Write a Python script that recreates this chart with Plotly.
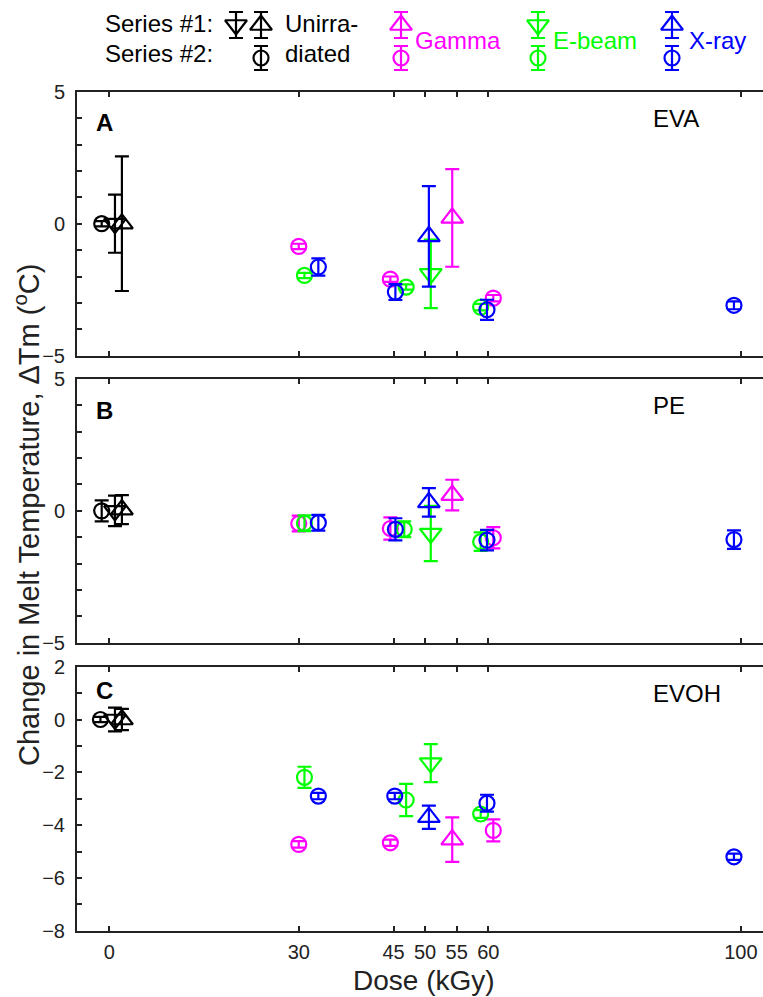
import plotly.graph_objects as go

# ---- data: change in melt temperature (deg C) vs dose (kGy) ----
# doses are slightly staggered around the nominal dose so markers do not overlap
# Series #2 (circles): (doses, values, errors)
eva_s2 = {
    "Unirradiated": ([-1.2], [0.0], [0.10]),
    "Gamma": ([30.0, 44.5, 60.8], [-0.86, -2.10, -2.82], [0.10, 0.10, 0.12]),
    "E-beam": ([30.9, 47.0, 58.8], [-1.96, -2.40, -3.16], [0.10, 0.10, 0.12]),
    "X-ray": ([33.1, 45.3, 59.8, 98.9], [-1.64, -2.59, -3.26, -3.09], [0.33, 0.30, 0.38, 0.15]),
}
pe_s2 = {
    "Unirradiated": ([-1.2], [0.0], [0.40]),
    "Gamma": ([30.0, 44.5, 60.8], [-0.48, -0.67, -1.02], [0.30, 0.42, 0.40]),
    "E-beam": ([30.9, 46.7, 58.8], [-0.47, -0.70, -1.17], [0.30, 0.30, 0.35]),
    "X-ray": ([33.1, 45.3, 59.8, 98.9], [-0.45, -0.70, -1.11, -1.09], [0.30, 0.42, 0.39, 0.35]),
}
evoh_s2 = {
    "Unirradiated": ([-1.4], [0.0], [0.10]),
    "Gamma": ([30.0, 44.5, 60.8], [-4.73, -4.67, -4.20], [0.12, 0.12, 0.42]),
    "E-beam": ([30.9, 47.0, 58.8], [-2.19, -3.05, -3.58], [0.40, 0.61, 0.15]),
    "X-ray": ([33.1, 45.2, 59.8, 98.9], [-2.90, -2.90, -3.17, -5.20], [0.12, 0.12, 0.32, 0.12]),
}
# Series #1 (triangles): (dose, value, error, symbol)
eva_s1 = {
    "Unirradiated": [(0.9, 0.0, 1.10, "triangle-down-open"), (2.0, 0.0, 2.55, "triangle-up-open")],
    "Gamma": [(54.3, 0.22, 1.85, "triangle-up-open")],
    "E-beam": [(50.9, -1.90, 1.30, "triangle-down-open")],
    "X-ray": [(50.6, -0.48, 1.90, "triangle-up-open")],
}
pe_s1 = {
    "Unirradiated": [(0.9, 0.0, 0.58, "triangle-down-open"), (2.0, 0.05, 0.55, "triangle-up-open")],
    "Gamma": [(54.3, 0.60, 0.58, "triangle-up-open")],
    "E-beam": [(50.9, -0.86, 1.05, "triangle-down-open")],
    "X-ray": [(50.6, 0.32, 0.54, "triangle-up-open")],
}
evoh_s1 = {
    "Unirradiated": [(0.9, 0.0, 0.45, "triangle-down-open"), (2.0, 0.0, 0.40, "triangle-up-open")],
    "Gamma": [(54.3, -4.55, 0.84, "triangle-up-open")],
    "E-beam": [(50.9, -1.65, 0.72, "triangle-down-open")],
    "X-ray": [(50.6, -3.70, 0.44, "triangle-up-open")],
}

dose_ticks = [0, 30, 45, 50, 55, 60, 100]
panel_letters = ["A", "B", "C"]
panel_names = ["EVA", "PE", "EVOH"]
colors = {"Unirradiated": "#000000", "Gamma": "#FF00FF", "E-beam": "#00FF00", "X-ray": "#0000FF"}
sources = ["Unirradiated", "Gamma", "E-beam", "X-ray"]

FONT = "Liberation Sans, Arial, sans-serif"
AX = "#222222"
W, H = 763, 997
TRI, CIRC, LW = 19, 15, 2.2

fig = go.Figure()


def err(arr, c, w=7):
    return dict(type="data", array=arr, visible=True, thickness=2.2, width=w, color=c)


def add_panel(s1, s2, xa, ya):
    for src in sources:
        c = colors[src]
        for d, v, e, sym in s1[src]:
            fig.add_trace(go.Scatter(
                x=[d], y=[v], mode="markers", xaxis=xa, yaxis=ya, showlegend=False,
                marker=dict(symbol=sym, size=TRI, color=c, line=dict(width=LW, color=c)),
                error_y=err([e], c, 7)))
        xs, ys, es = s2[src]
        fig.add_trace(go.Scatter(
            x=xs, y=ys, mode="markers", xaxis=xa, yaxis=ya, showlegend=False,
            marker=dict(symbol="circle-open", size=CIRC, color=c, line=dict(width=LW, color=c)),
            error_y=err(es, c, 7)))


add_panel(eva_s1, eva_s2, "x", "y")
add_panel(pe_s1, pe_s2, "x2", "y2")
add_panel(evoh_s1, evoh_s2, "x3", "y3")

# ---- axes ----
x_dom = [77 / W, 1.0]
y_doms = [[1 - 355.7 / H, 1 - 91.7 / H], [1 - 642.7 / H, 1 - 379 / H], [1 - 930.7 / H, 1 - 666.7 / H]]
y_ranges = [[-5, 5], [-5, 5], [-8, 2]]
y_dticks = [5, 5, 2]

layout = dict(
    template="none",
    width=W, height=H, margin=dict(l=0, r=0, t=0, b=0, pad=0, autoexpand=False),
    paper_bgcolor="white", plot_bgcolor="white",
    font=dict(family=FONT, size=20, color="#222222"),
    showlegend=False,
)
for i in range(3):
    sx = "" if i == 0 else str(i + 1)
    layout["xaxis" + sx] = dict(
        domain=x_dom, anchor="y" + sx, range=[-5.11, 103.5], automargin=False,
        tickmode="array", tickvals=dose_ticks, ticktext=[str(t) for t in dose_ticks],
        showticklabels=(i == 2), ticks="inside", ticklen=5, tickwidth=2, tickcolor=AX,
        showline=True, linewidth=2, linecolor=AX, mirror="ticks",
        showgrid=False, zeroline=False, ticklabelstandoff=2,
        tickfont=dict(size=20, family=FONT, color="#222222"),
    )
    layout["yaxis" + sx] = dict(
        domain=y_doms[i], anchor="x" + sx, range=y_ranges[i], automargin=False,
        tick0=0, dtick=y_dticks[i], ticks="inside", ticklen=5, tickwidth=2, tickcolor=AX,
        minor=dict(dtick=1, ticks="inside", ticklen=5, tickwidth=2, tickcolor=AX, showgrid=False),
        showline=True, linewidth=2, linecolor=AX, mirror=False,
        showgrid=False, zeroline=False, ticklabelstandoff=6,
        tickfont=dict(size=20, family=FONT, color="#222222"),
    )

# overlay axis for the legend block, in pixel units
layout["xaxis4"] = dict(domain=[0, 1], range=[0, W], anchor="y4", visible=False,
                        fixedrange=True, automargin=False)
layout["yaxis4"] = dict(domain=[1 - 80 / H, 1], range=[80, 0], anchor="x4", visible=False,
                        fixedrange=True, automargin=False)
fig.update_layout(**layout)

# ---- legend block ----
legend_keys = [
    # (x, y, err, symbol, size, source)
    (236, 25, 13, "triangle-down-open", TRI, "Unirradiated"),
    (261, 25, 13, "triangle-up-open", TRI, "Unirradiated"),
    (261, 58, 12, "circle-open", CIRC, "Unirradiated"),
    (401, 25, 13, "triangle-up-open", TRI, "Gamma"),
    (401, 58, 12, "circle-open", CIRC, "Gamma"),
    (538, 25, 13, "triangle-down-open", TRI, "E-beam"),
    (538, 58, 12, "circle-open", CIRC, "E-beam"),
    (672, 25, 13, "triangle-up-open", TRI, "X-ray"),
    (672, 58, 12, "circle-open", CIRC, "X-ray"),
]
for lx, ly, le, sym, sz, src in legend_keys:
    c = colors[src]
    fig.add_trace(go.Scatter(
        x=[lx], y=[ly], mode="markers", xaxis="x4", yaxis="y4", showlegend=False,
        marker=dict(symbol=sym, size=sz, color=c, line=dict(width=LW, color=c)),
        error_y=err([le], c, 7)))

legend_texts = [
    ("Series #1:", 103, 23, "#000000"),
    ("Series #2:", 103, 53, "#000000"),
    ("Unirra-", 283, 23, "#000000"),
    ("diated", 283, 53, "#000000"),
    ("Gamma", 413, 40, colors["Gamma"]),
    ("E-beam", 551, 40, colors["E-beam"]),
    ("X-ray", 687, 40, colors["X-ray"]),
]
for txt, tx, ty, c in legend_texts:
    fig.add_annotation(text=txt, x=tx, y=ty, xref="x4", yref="y4", xanchor="left", yanchor="middle",
                       showarrow=False, font=dict(size=24, family=FONT, color=c))

# ---- panel labels ----
letter_y = [1 - 31 / 264, 1 - 32 / 264, 1 - 24 / 264]
for i in range(3):
    sx = "" if i == 0 else str(i + 1)
    fig.add_annotation(text="<b>%s</b>" % panel_letters[i], x=(94 - 77) / 686, y=letter_y[i],
                       xref="x%s domain" % sx, yref="y%s domain" % sx, xanchor="left", yanchor="middle",
                       showarrow=False, font=dict(size=24, family=FONT, color="#000000"))
    fig.add_annotation(text=panel_names[i], x=(651 - 77) / 686, y=1 - 27 / 264,
                       xref="x%s domain" % sx, yref="y%s domain" % sx, xanchor="left", yanchor="middle",
                       showarrow=False, font=dict(size=24, family=FONT, color="#000000"))

# ---- axis titles ----
fig.add_annotation(text="Dose (kGy)", x=424 / W, y=1 - 980 / H, xref="paper", yref="paper",
                   xanchor="center", yanchor="middle", showarrow=False,
                   font=dict(size=28, family=FONT, color="#222222"))
fig.add_annotation(text="Change in Melt Temperature, \u0394Tm (<sup>o</sup>C)", x=27 / W, y=1 - 515 / H,
                   xref="paper", yref="paper", xanchor="center", yanchor="middle", textangle=-90,
                   showarrow=False, font=dict(size=29, family=FONT, color="#222222"))

fig.write_html("out.html")
